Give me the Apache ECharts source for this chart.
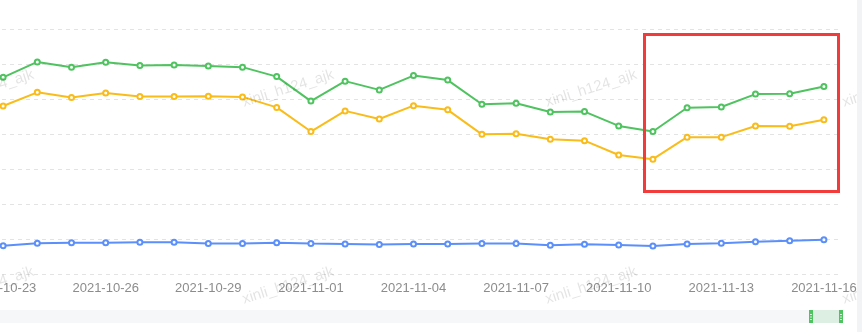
<!DOCTYPE html>
<html><head><meta charset="utf-8">
<script src="https://cdn.jsdelivr.net/npm/echarts@6/dist/echarts.min.js"></script>
<style>
html,body{margin:0;padding:0;background:#fff;overflow:hidden;}
#c{position:absolute;left:0;top:0;width:862px;height:332px;}
#edge{position:absolute;left:857px;top:0;width:5px;height:332px;background:#f2f3f5;}
</style></head>
<body>
<div id="c"></div><div id="edge"></div>
<script>
const categories = ['2021-10-23','2021-10-24','2021-10-25','2021-10-26','2021-10-27','2021-10-28','2021-10-29','2021-10-30','2021-10-31','2021-11-01','2021-11-02','2021-11-03','2021-11-04','2021-11-05','2021-11-06','2021-11-07','2021-11-08','2021-11-09','2021-11-10','2021-11-11','2021-11-12','2021-11-13','2021-11-14','2021-11-15','2021-11-16'];
const greenValues = [562,606,591,605,596,597,594,591,564,494,551,526,567,554,485,488,463,464,423,407,475,477,514,515,536];
const yellowValues = [480,519,504,517,507,507,508,506,476,407,466,443,481,469,399,401,385,381,340,328,391,391,423,422,441];
const blueValues = [81,88,89,89,91,91,87,87,89,87,86,84,86,86,87,87,82,85,83,80,86,88,92,95,98];
const watermarkText = 'xinli_h124_ajk';
const watermarkCols = [-55, 245, 548, 845];
const watermarkRows = [110, 307];

const chart = echarts.init(document.getElementById('c'), null, {renderer:'canvas'});
const wm = [];
watermarkRows.forEach(y => watermarkCols.forEach(x => {
  wm.push({type:'text', x:x, y:y, rotation: 17.5*Math.PI/180, z:100, silent:true,
    style:{text:watermarkText, font:'15px "Liberation Sans", Arial, sans-serif', fill:'rgba(0,0,0,0.11)',
      textAlign:'left', textVerticalAlign:'bottom', align:'left', verticalAlign:'bottom'}});
}));
const handle = (x) => [
  {type:'rect', z:5, shape:{x:x-2, y:310, width:4, height:13}, style:{fill:'#4fc35f'}},
  {type:'rect', z:6, shape:{x:x-1, y:314, width:2, height:1}, style:{fill:'#d8f1dc'}},
  {type:'rect', z:6, shape:{x:x-1, y:316.5, width:2, height:1}, style:{fill:'#d8f1dc'}},
  {type:'rect', z:6, shape:{x:x-1, y:319, width:2, height:1}, style:{fill:'#d8f1dc'}}
];
const option = {
  animation:false,
  backgroundColor:'#fff',
  grid:{left:-14, right:21, top:29, bottom:58, containLabel:false, outerBoundsMode:'none'},
  xAxis:{type:'category', boundaryGap:true, data:categories,
    axisLine:{show:false}, axisTick:{show:false},
    axisLabel:{interval:2, color:'#8c8c8c', fontSize:13, margin:8, fontFamily:'"Liberation Sans", Arial, sans-serif'}},
  yAxis:{type:'value', min:0, max:700, interval:100,
    axisLine:{show:false}, axisTick:{show:false}, axisLabel:{show:false},
    splitLine:{show:true, lineStyle:{type:[4,4], color:'#e3e3e3', width:1}}},
  series:[
    {name:'A', type:'line', data:greenValues, color:'#4fc35f', symbol:'emptyCircle', symbolSize:5, lineStyle:{width:2}, itemStyle:{borderWidth:1.2}},
    {name:'B', type:'line', data:yellowValues, color:'#f9bc1b', symbol:'emptyCircle', symbolSize:5, lineStyle:{width:2}, itemStyle:{borderWidth:1.2}},
    {name:'C', type:'line', data:blueValues, color:'#5b8ff9', symbol:'emptyCircle', symbolSize:5, lineStyle:{width:2}, itemStyle:{borderWidth:1.2}}
  ],
  graphic:[
    {type:'rect', shape:{x:0, y:310, width:842, height:13}, style:{fill:'#f6f7f9'}, z:1},
    {type:'rect', shape:{x:810, y:310, width:31, height:13}, style:{fill:'rgba(79,195,95,0.15)'}, z:2}
  ].concat(handle(811), handle(841), [
    {type:'rect', shape:{x:644.5, y:34.5, width:194, height:157}, style:{fill:'none', stroke:'#f23b3b', lineWidth:3}, z:50}
  ], wm)
};
chart.setOption(option);
</script>
</body></html>
